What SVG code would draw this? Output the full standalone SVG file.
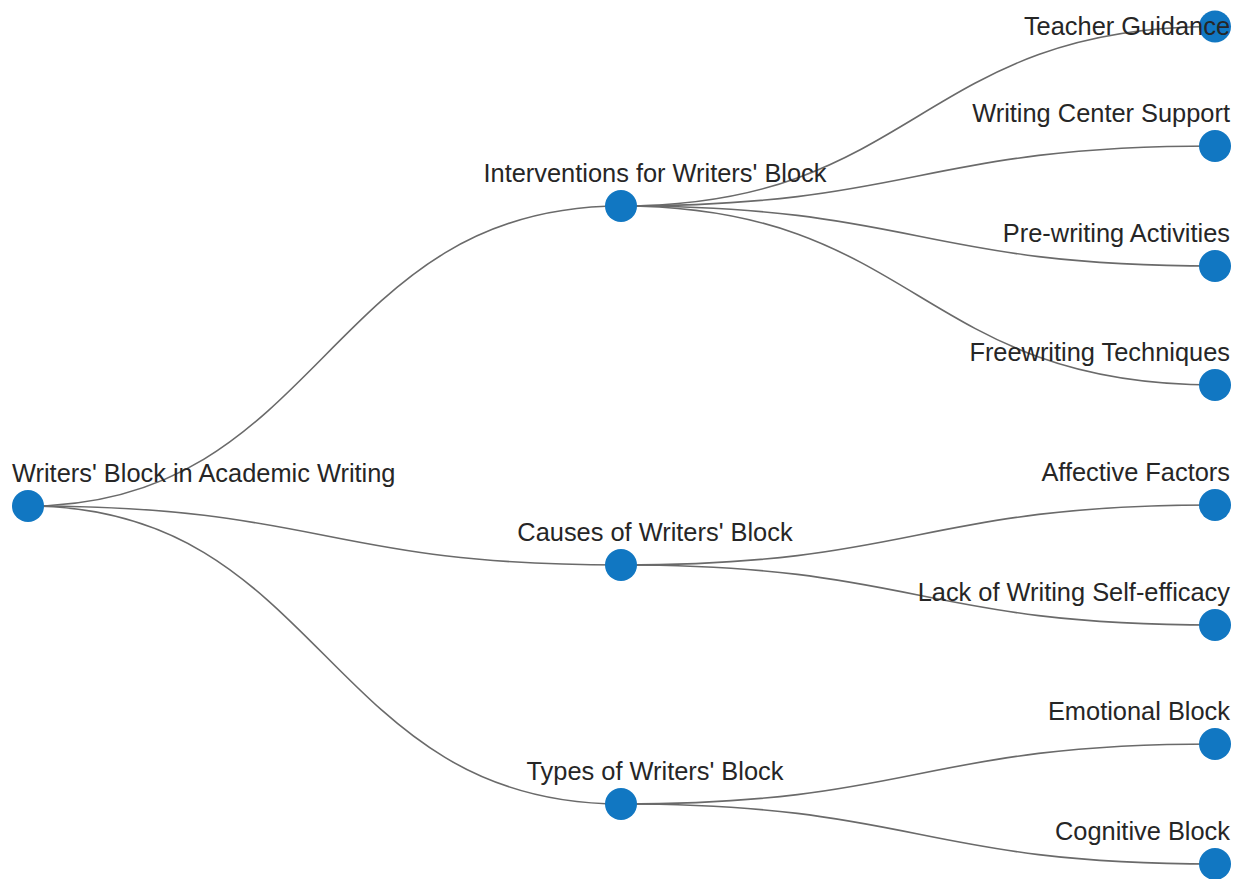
<svg xmlns="http://www.w3.org/2000/svg" width="1236" height="879" viewBox="0 0 1236 879">
<style>
.link{fill:none;stroke:#6a6a6a;stroke-width:1.6}
.node circle{fill:#1177c2}
.lbl{font-family:"Liberation Sans",Arial,sans-serif;font-size:25.4px;fill:#262626}
.leaf{text-anchor:end}
.mid{text-anchor:middle}
.root{text-anchor:start}
</style>
<rect width="1236" height="879" fill="#ffffff"/>
<g id="links">
<path class="link" d="M28,506 C324.5,506 324.5,206 621,206"/>
<path class="link" d="M28,506 C324.5,506 324.5,565 621,565"/>
<path class="link" d="M28,506 C324.5,506 324.5,804 621,804"/>
<path class="link" d="M621,206 C918,206 918,26.5 1215,26.5"/>
<path class="link" d="M621,206 C918,206 918,146 1215,146"/>
<path class="link" d="M621,206 C918,206 918,266 1215,266"/>
<path class="link" d="M621,206 C918,206 918,385 1215,385"/>
<path class="link" d="M621,565 C918,565 918,505 1215,505"/>
<path class="link" d="M621,565 C918,565 918,625 1215,625"/>
<path class="link" d="M621,804 C918,804 918,744 1215,744"/>
<path class="link" d="M621,804 C918,804 918,864 1215,864"/>
</g>
<g id="n-root" class="node"><circle cx="28" cy="506" r="16"/><text class="lbl root" x="12" y="482">Writers' Block in Academic Writing</text></g>
<g id="n-interventions" class="node"><circle cx="621" cy="206" r="16"/><text class="lbl mid" x="655" y="182">Interventions for Writers' Block</text></g>
<g id="n-causes" class="node"><circle cx="621" cy="565" r="16"/><text class="lbl mid" x="655" y="541">Causes of Writers' Block</text></g>
<g id="n-types" class="node"><circle cx="621" cy="804" r="16"/><text class="lbl mid" x="655" y="780">Types of Writers' Block</text></g>
<g id="n-teacher" class="node"><circle cx="1215" cy="26.5" r="16"/><text class="lbl leaf" x="1230" y="35">Teacher Guidance</text></g>
<g id="n-center" class="node"><circle cx="1215" cy="146" r="16"/><text class="lbl leaf" x="1230" y="122">Writing Center Support</text></g>
<g id="n-prewriting" class="node"><circle cx="1215" cy="266" r="16"/><text class="lbl leaf" x="1230" y="242">Pre-writing Activities</text></g>
<g id="n-freewriting" class="node"><circle cx="1215" cy="385" r="16"/><text class="lbl leaf" x="1230" y="361">Freewriting Techniques</text></g>
<g id="n-affective" class="node"><circle cx="1215" cy="505" r="16"/><text class="lbl leaf" x="1230" y="481">Affective Factors</text></g>
<g id="n-selfefficacy" class="node"><circle cx="1215" cy="625" r="16"/><text class="lbl leaf" x="1230" y="601">Lack of Writing Self-efficacy</text></g>
<g id="n-emotional" class="node"><circle cx="1215" cy="744" r="16"/><text class="lbl leaf" x="1230" y="720">Emotional Block</text></g>
<g id="n-cognitive" class="node"><circle cx="1215" cy="864" r="16"/><text class="lbl leaf" x="1230" y="840">Cognitive Block</text></g>
</svg>
